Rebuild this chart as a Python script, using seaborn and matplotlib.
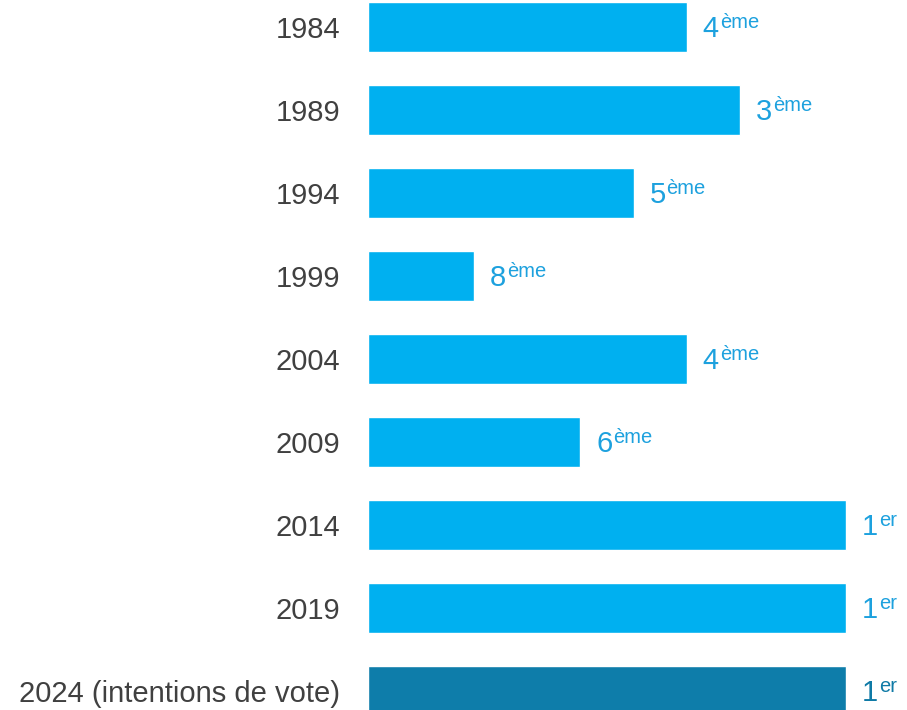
import matplotlib
matplotlib.use("Agg")
import matplotlib.pyplot as plt
import seaborn as sns
import pandas as pd

# data
years = ["1984", "1989", "1994", "1999", "2004", "2009", "2014", "2019",
         "2024 (intentions de vote)"]
ranks = ["4", "3", "5", "8", "4", "6", "1", "1", "1"]
suffixes = ["ème", "ème", "ème", "ème", "ème", "ème", "er", "er", "er"]
lengths = [6, 7, 5, 2, 6, 4, 9, 9, 9]

BAR_LIGHT = "#00B0F0"
BAR_DARK = "#0E7DAA"
TXT_LIGHT = "#1DA1DE"
TXT_DARK = "#0F7AA6"

bar_colors = [BAR_LIGHT] * 8 + [BAR_DARK]
txt_colors = [TXT_LIGHT] * 8 + [TXT_DARK]

sns.set_style("white")
plt.rcParams["font.family"] = ["Liberation Sans", "DejaVu Sans"]

df = pd.DataFrame({"year": years, "length": lengths})

fig = plt.figure(figsize=(9.07, 7.10), dpi=100)
ax = fig.add_axes([368 / 907, 0, (907 - 368) / 907, 1])

sns.barplot(data=df, x="length", y="year", hue="year", palette=bar_colors,
            legend=False, width=0.6, orient="h", ax=ax, saturation=1)

ax.set_xlim(0, 539 / 53.1)
ax.set_ylim(8 + 19 / 83, -27 / 83)
ax.set_xlabel("")
ax.set_ylabel("")
ax.set_xticks([])
ax.tick_params(axis="y", length=0, pad=20, labelsize=21, labelcolor="#404040")
for s in ax.spines.values():
    s.set_visible(False)

for i, (val, rk, suf, col) in enumerate(zip(lengths, ranks, suffixes, txt_colors)):
    ax.annotate(rk, (val, i), xytext=(11.5, -7.4), textcoords="offset points",
                fontsize=21, color=col, va="baseline", ha="left")
    ax.annotate(suf, (val, i), xytext=(23.8, -0.7), textcoords="offset points",
                fontsize=14.5, color=col, va="baseline", ha="left")

fig.savefig("out.png", dpi=100)
